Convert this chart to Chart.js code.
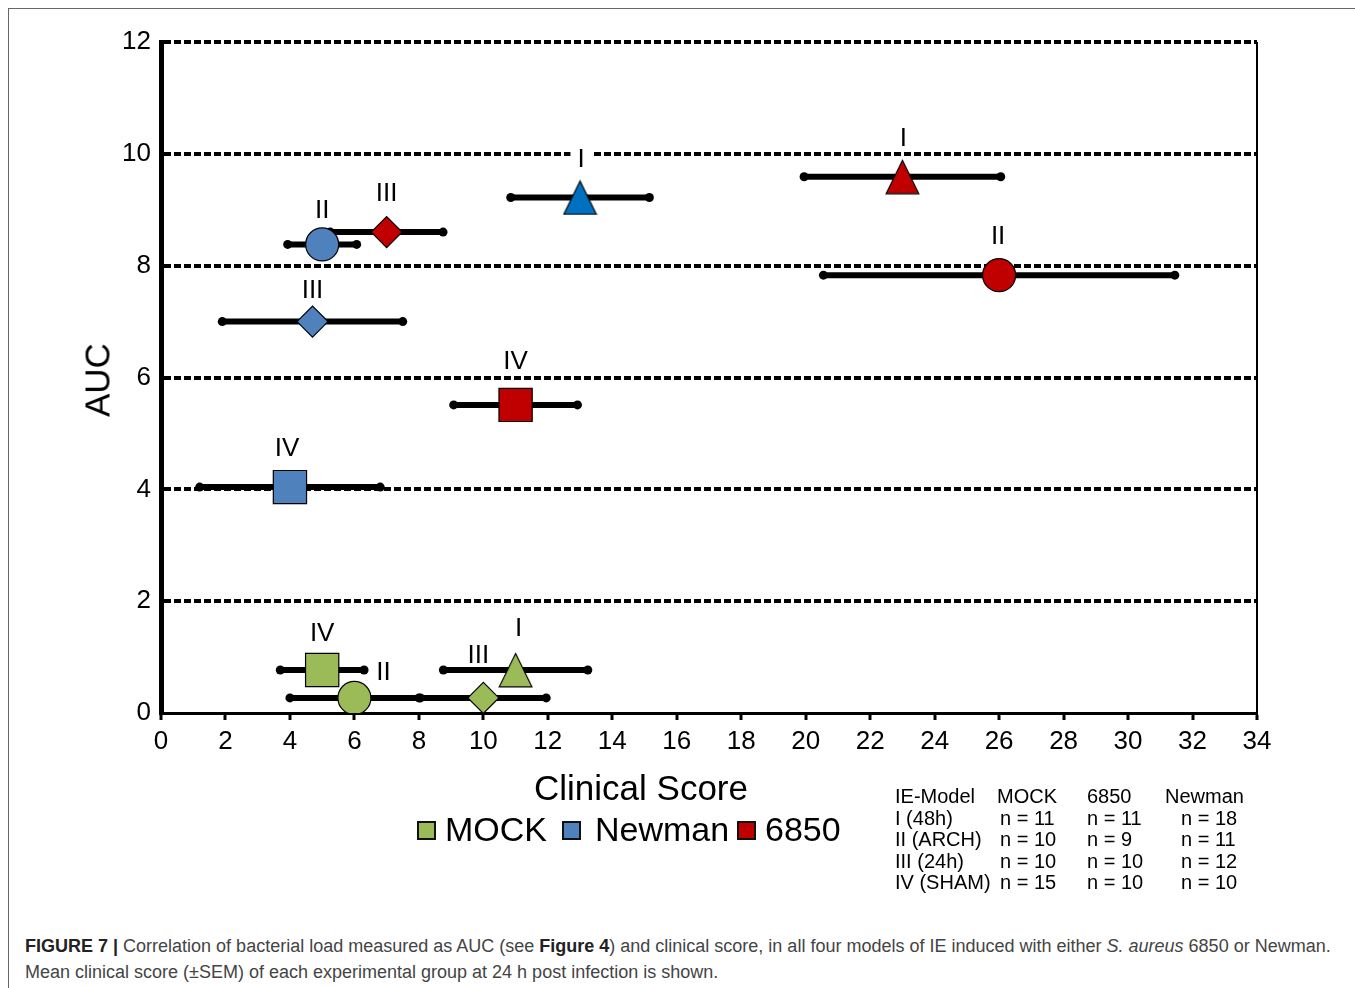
<!DOCTYPE html>
<html>
<head>
<meta charset="utf-8">
<script src="https://cdn.jsdelivr.net/npm/chart.js@4.4.1/dist/chart.umd.min.js"></script>
<style>
  body { margin: 0; background: #fff; font-family: 'Liberation Sans', Arial, sans-serif; }
  #page { position: relative; width: 1355px; height: 988px; overflow: hidden; }
  #frame { position: absolute; left: 8px; top: 8px; width: 1360px; height: 1000px;
           border-left: 1.5px solid #666; border-top: 1.5px solid #666; }
  #chart { position: absolute; left: 0; top: 0; }
  .txt { position: absolute; white-space: nowrap; line-height: 1; color: #000; }
  .box { position: absolute; width: 19px; height: 19px; box-sizing: border-box; border: 2px solid #111; }
  .cap { position: absolute; left: 25px; font-size: 18px; color: #444; white-space: nowrap; line-height: 1; }
</style>
</head>
<body>
<div id="page">
  <div id="frame"></div>
  <canvas id="chart" width="1355" height="770"></canvas>

  <div class="txt" style="left:97px; top:380px; font-size:35px; transform:translate(-50%,-50%) rotate(-90deg);">AUC</div>
  <div class="txt" style="left:641px; top:770px; font-size:35px; transform:translateX(-50%);">Clinical Score</div>

  <!-- legenda -->
  <div class="box" style="left:417px; top:821px; background:#9BBB59;"></div>
  <div class="txt" style="left:445px; top:812px; font-size:34px;">MOCK</div>
  <div class="box" style="left:562px; top:821px; background:#4F81BD;"></div>
  <div class="txt" style="left:595px; top:812px; font-size:34px;">Newman</div>
  <div class="box" style="left:737px; top:821px; background:#C00000;"></div>
  <div class="txt" style="left:765px; top:812px; font-size:34px;">6850</div>

  <div class="cap" style="top:937px;"><b style="color:#222">FIGURE 7 |</b> Correlation of bacterial load measured as AUC (see <b style="color:#222">Figure 4</b>) and clinical score, in all four models of IE induced with either <i>S. aureus</i> 6850 or Newman.</div>
  <div class="cap" style="top:963px;">Mean clinical score (±SEM) of each experimental group at 24 h post infection is shown.</div>
</div>

<script>
// dados
const seriesNames = ['MOCK', 'Newman', '6850'];
const modelLabels = ['I', 'II', 'III', 'IV'];

const mockScore = [11, 6, 10, 5];
const mockAuc = [0.77, 0.27, 0.27, 0.77];
const mockSem = [2.24, 2.0, 1.95, 1.3];

const newmanScore = [13, 5, 4.7, 4];
const newmanAuc = [9.22, 8.38, 7.0, 4.04];
const newmanSem = [2.15, 1.07, 2.8, 2.8];

const s6850Score = [23, 26, 7, 11];
const s6850Auc = [9.59, 7.83, 8.6, 5.51];
const s6850Sem = [3.05, 5.45, 1.75, 1.92];

// tabela de n por grupo
const tableHeader = ['IE-Model', 'MOCK', '6850', 'Newman'];
const tableModels = ['I (48h)', 'II (ARCH)', 'III (24h)', 'IV (SHAM)'];
const nMock = [11, 10, 10, 15];
const n6850 = [11, 9, 10, 10];
const nNewman = [18, 11, 12, 10];

// posição dos rótulos romanos (px, relativo ao marcador)
const mockLabelPos = [[3, -42], [29, -26], [-5, -43], [0, -37]];
const newmanLabelPos = [[1, -39], [0, -35], [0, -32], [-3, -39]];
const s6850LabelPos = [[1, -39], [-1, -39], [0, -39], [0, -44]];

// monta a tabela
const headX = [895, 997, 1087, 1165];
const cellX = [895, 1000, 1087, 1181];
const rowBase = [803, 824.5, 846, 867.6, 889.2];
function addCell(text, x, base) {
    const d = document.createElement('div');
    d.className = 'txt';
    d.style.fontSize = '20px';
    d.style.left = x + 'px';
    d.style.top = (base - 0.8465 * 20) + 'px';
    d.textContent = text;
    document.getElementById('page').appendChild(d);
}
tableHeader.forEach((h, i) => addCell(h, headX[i], rowBase[0]));
tableModels.forEach((m, r) => {
    addCell(m, cellX[0], rowBase[r + 1]);
    addCell('n = ' + nMock[r], cellX[1], rowBase[r + 1]);
    addCell('n = ' + n6850[r], cellX[2], rowBase[r + 1]);
    addCell('n = ' + nNewman[r], cellX[3], rowBase[r + 1]);
});

// triângulo desenhado num canvas (centro = caixa, como no Excel)
function triangleMarker(fill) {
    const c = document.createElement('canvas');
    c.width = 35; c.height = 36;
    const g = c.getContext('2d');
    g.beginPath();
    g.moveTo(17.5, 1.5);
    g.lineTo(33.8, 34.8);
    g.lineTo(1.2, 34.8);
    g.closePath();
    g.fillStyle = fill;
    g.fill();
    g.lineWidth = 1.2;
    g.strokeStyle = '#000';
    g.stroke();
    return c;
}

function makePoints(xs, ys, sems, labelPos) {
    return xs.map((v, i) => ({ x: v, y: ys[i], sem: sems[i], label: modelLabels[i], pos: labelPos[i] }));
}

function makeDataset(name, points, colors) {
    return {
        label: name,
        data: points,
        pointStyle: [triangleMarker(colors[0]), 'circle', 'rectRot', 'rect'],
        pointRadius: [17, 16.5, 15.5, 23.5],
        backgroundColor: colors,
        borderColor: '#000',
        borderWidth: 1.2,
        showLine: false
    };
}

// barras de erro (±SEM) e rótulos, antes dos marcadores
const errorBars = {
    id: 'errorBars',
    beforeDatasetsDraw(chart) {
        const { ctx, scales: { x, y } } = chart;
        ctx.save();
        // rótulos com fundo branco
        ctx.font = '26px "Liberation Sans", Arial, sans-serif';
        ctx.textAlign = 'center';
        ctx.textBaseline = 'middle';
        chart.data.datasets.forEach((ds, di) => {
            const meta = chart.getDatasetMeta(di);
            ds.data.forEach((p, i) => {
                const el = meta.data[i];
                const lx = el.x + p.pos[0];
                const ly = el.y + p.pos[1];
                const w = ctx.measureText(p.label).width + 14;
                ctx.fillStyle = '#fff';
                ctx.fillRect(lx - w / 2, ly - 13, w, 26);
                ctx.fillStyle = '#000';
                ctx.fillText(p.label, lx, ly + 1);
            });
        });
        // barras
        ctx.strokeStyle = '#000';
        ctx.fillStyle = '#000';
        ctx.lineWidth = 6;
        chart.data.datasets.forEach(ds => {
            ds.data.forEach(p => {
                const x1 = x.getPixelForValue(p.x - p.sem);
                const x2 = x.getPixelForValue(p.x + p.sem);
                const py = y.getPixelForValue(p.y);
                ctx.beginPath();
                ctx.moveTo(x1, py);
                ctx.lineTo(x2, py);
                ctx.stroke();
                [x1, x2].forEach(px => {
                    ctx.beginPath();
                    ctx.arc(px, py, 4.5, 0, Math.PI * 2);
                    ctx.fill();
                });
            });
        });
        ctx.restore();
    }
};

const tickFont = { family: "'Liberation Sans', Arial, sans-serif", size: 26 };

new Chart(document.getElementById('chart').getContext('2d'), {
    type: 'scatter',
    data: {
        datasets: [
            makeDataset(seriesNames[0], makePoints(mockScore, mockAuc, mockSem, mockLabelPos),
                ['#9BBB59', '#9BBB59', '#9BBB59', '#9BBB59']),
            makeDataset(seriesNames[1], makePoints(newmanScore, newmanAuc, newmanSem, newmanLabelPos),
                ['#0070C0', '#4F81BD', '#4F81BD', '#4F81BD']),
            makeDataset(seriesNames[2], makePoints(s6850Score, s6850Auc, s6850Sem, s6850LabelPos),
                ['#C00000', '#C00000', '#C00000', '#C00000'])
        ]
    },
    options: {
        responsive: false,
        animation: false,
        events: [],
        layout: { padding: { left: 0, top: 42, right: 98, bottom: 0 } },
        plugins: {
            legend: { display: false },
            tooltip: { enabled: false }
        },
        scales: {
            x: {
                type: 'linear',
                min: 0,
                max: 34,
                afterFit: s => { s.height = 57; },
                ticks: { stepSize: 2, font: tickFont, color: '#000', padding: 6, maxRotation: 0 },
                grid: {
                    color: c => (c.tick && c.tick.value === 34) ? '#000' : 'rgba(0,0,0,0)',
                    lineWidth: 2,
                    tickColor: '#000',
                    tickLength: 7,
                    tickWidth: 3
                },
                border: { color: '#000', width: 3, dash: [] }
            },
            y: {
                min: 0,
                max: 12,
                afterFit: s => { s.width = 161; },
                ticks: { stepSize: 2, font: tickFont, color: '#000', padding: 10 },
                grid: {
                    color: c => (c.tick && c.tick.value === 0) ? 'rgba(0,0,0,0)' : '#000',
                    lineWidth: 4,
                    drawTicks: false
                },
                border: { color: '#000', width: 5, dash: [7, 3] }
            }
        }
    },
    plugins: [errorBars]
});
</script>
</body>
</html>
